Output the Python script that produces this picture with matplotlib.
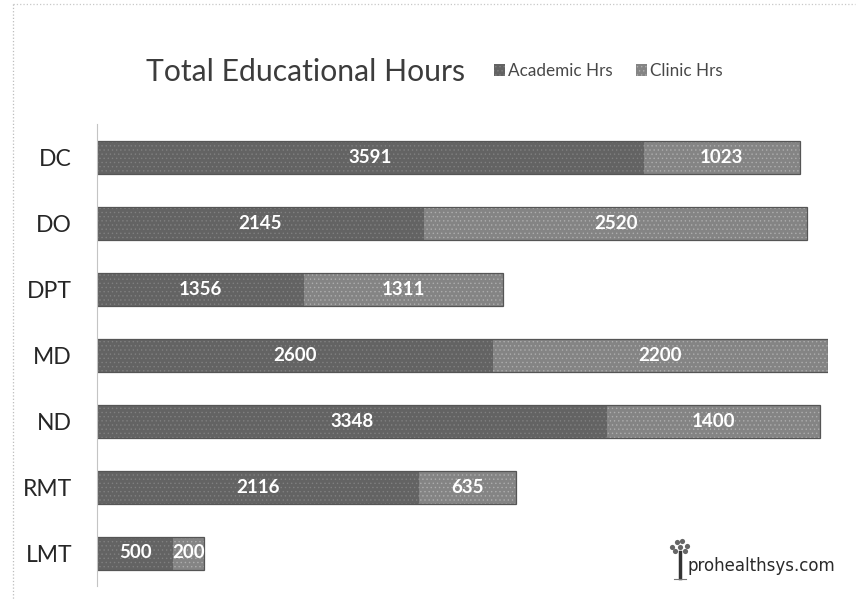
import matplotlib
matplotlib.use("Agg")
from matplotlib import pyplot as plt
from matplotlib.lines import Line2D

plt.rcParams["font.family"] = ["Lato", "DejaVu Sans"]
plt.rcParams["hatch.linewidth"] = 0.5

programs = ["DC", "DO", "DPT", "MD", "ND", "RMT", "LMT"]
academic_hrs = [3591, 2145, 1356, 2600, 3348, 2116, 500]
clinic_hrs = [1023, 2520, 1311, 2200, 1400, 635, 200]

W, H = 860, 602
fig = plt.figure(figsize=(8.6, 6.02), dpi=100)
# axes box in pixels: left 97, right 828, top 124, bottom 586
ax = fig.add_axes([97 / W, (H - 586) / H, (828 - 97) / W, (586 - 124) / H])

y = list(range(len(programs)))
bars_a = ax.barh(y, academic_hrs, height=0.5, color="#636363", hatch="....",
                 edgecolor="#808080", linewidth=0, label="Academic Hrs")
bars_c = ax.barh(y, clinic_hrs, left=academic_hrs, height=0.5, color="#848484", hatch="....",
                 edgecolor="#adadad", linewidth=0, label="Clinic Hrs")
# darker rims the photocopy left on the bars
totals = [a + c for a, c in zip(academic_hrs, clinic_hrs)]
ax.barh(y, totals, height=0.5, fill=False, edgecolor="#555555", linewidth=0.9)

for bars, vals in ((bars_a, academic_hrs), (bars_c, clinic_hrs)):
    for b, v in zip(bars, vals):
        ax.text(b.get_x() + b.get_width() / 2, b.get_y() + b.get_height() / 2, str(v),
                color="white", fontsize=13.5, fontweight="bold", ha="center", va="center")

ax.set_xlim(0, 4800)
ax.set_ylim(len(programs) - 0.5, -0.5)
ax.set_yticks(y, programs)
ax.set_xticks([])
ax.tick_params(axis="y", length=0, pad=18, labelsize=16.5, labelcolor="#262626")
for s in ("top", "right", "bottom"):
    ax.spines[s].set_visible(False)
ax.spines["left"].set_color("#c4c4c4")
ax.spines["left"].set_linewidth(0.8)

fig.text(146 / W, 1 - 72 / H, "Total Educational Hours", fontsize=21.7, color="#3c3c3c",
         ha="left", va="center")
ax.legend(loc="center left", bbox_to_anchor=(494 / W, 1 - 71 / H),
          bbox_transform=fig.transFigure, ncol=2, frameon=False, fontsize=12.3,
          labelcolor="#484848", handlelength=0.65, handleheight=0.7, handletextpad=0.15,
          columnspacing=1.4, borderpad=0, borderaxespad=0)

fig.text(835 / W, 1 - 566 / H, "prohealthsys.com", fontsize=12, color="#2a2a2a",
         family=["DejaVu Sans"], ha="right", va="center")

# small tree beside the web address, in pixel coordinates
logo = fig.add_axes([0, 0, 1, 1], facecolor="none")
logo.set_xlim(0, W)
logo.set_ylim(H, 0)
logo.axis("off")
logo.plot([680, 680], [552, 578], color="#333333", lw=2.5)
logo.plot([674, 686], [579, 579], color="#777777", lw=0.8)
logo.scatter([672, 677, 682, 687, 675, 685, 680], [547, 542, 541, 546, 551, 551, 547],
             s=14, color="#666666", linewidths=0)

# edges of the scanned page
fig.add_artist(Line2D([13 / W, 855 / W], [1 - 4 / H, 1 - 4 / H], color="#c8c8c8", lw=0.9, ls=":"))
fig.add_artist(Line2D([13 / W, 13 / W], [1 - 4 / H, 1 - 600 / H], color="#bdbdbd", lw=0.9, ls=":"))

fig.savefig("out.png", dpi=100)
